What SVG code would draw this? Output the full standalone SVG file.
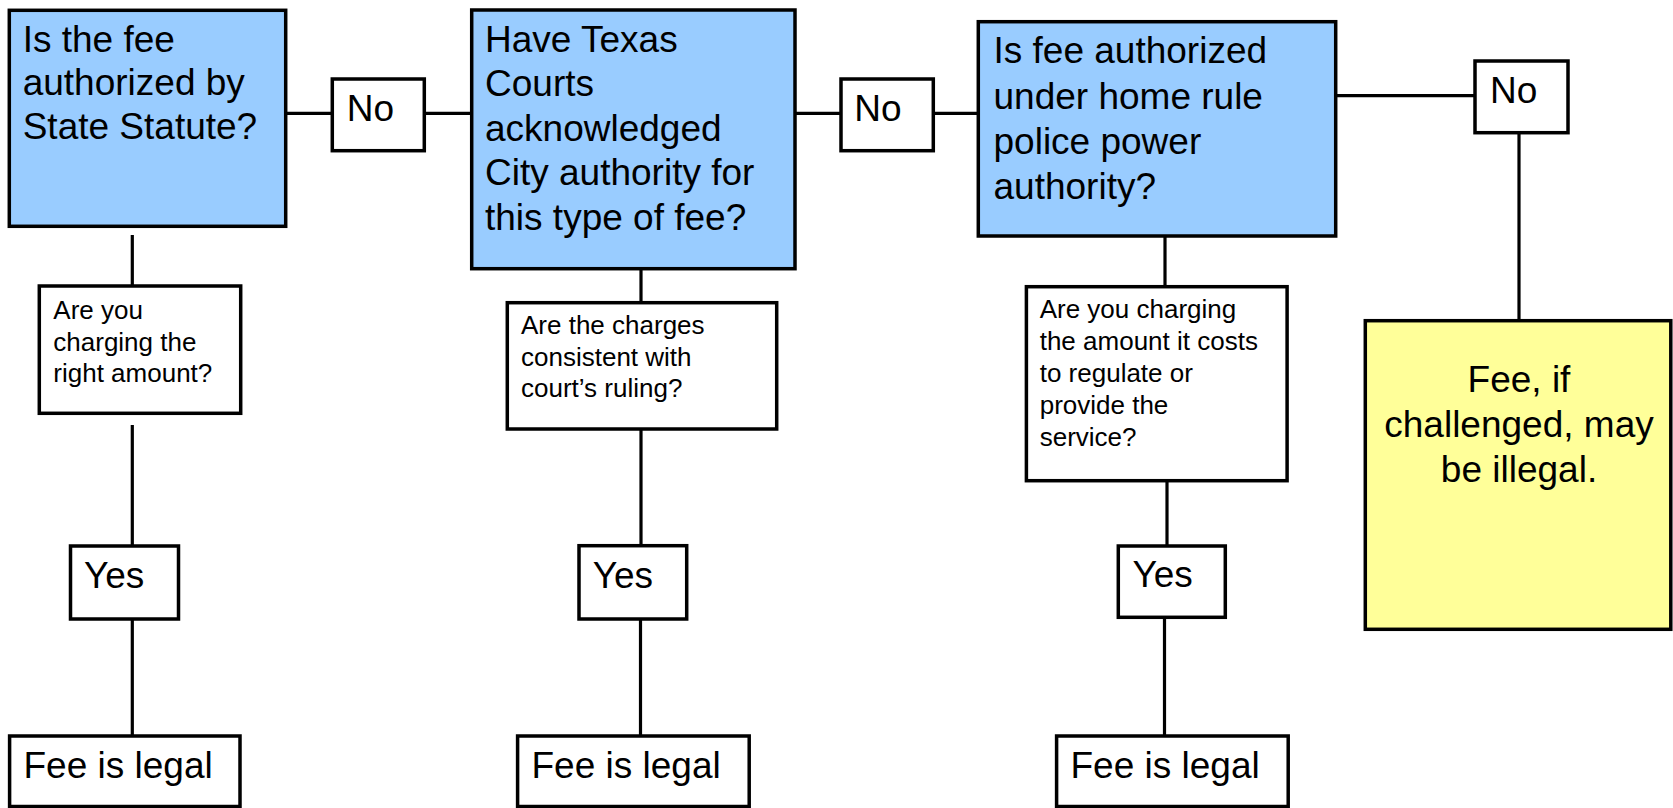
<svg xmlns="http://www.w3.org/2000/svg" width="1673" height="808" viewBox="0 0 1673 808">
<style>
.box{stroke:#000;stroke-width:3.5}
.q{fill:#99CCFF}
.w{fill:#FFFFFF}
.y{fill:#FFFF99}
.t{font-family:"Liberation Sans",Arial,sans-serif;font-size:37px;fill:#000}
.s{font-family:"Liberation Sans",Arial,sans-serif;font-size:26px;fill:#000}
.c line{stroke:#000;stroke-width:3.2}
</style>
<rect width="1673" height="808" fill="#FFFFFF"/>
<g class="c" id="connectors">
<line x1="287" y1="113.3" x2="332" y2="113.3"/>
<line x1="426" y1="113.3" x2="472" y2="113.3"/>
<line x1="795" y1="113.3" x2="841" y2="113.3"/>
<line x1="933" y1="113.3" x2="978" y2="113.3"/>
<line x1="1336" y1="95.7" x2="1475" y2="95.7"/>
<line x1="1519" y1="132" x2="1519" y2="321"/>
<line x1="132.3" y1="235" x2="132.3" y2="286"/>
<line x1="132.3" y1="425" x2="132.3" y2="546"/>
<line x1="132.3" y1="619" x2="132.3" y2="736"/>
<line x1="641" y1="268" x2="641" y2="303"/>
<line x1="641" y1="429" x2="641" y2="546"/>
<line x1="640.5" y1="619" x2="640.5" y2="736"/>
<line x1="1165" y1="235" x2="1165" y2="286"/>
<line x1="1167" y1="481" x2="1167" y2="546"/>
<line x1="1164.5" y1="617" x2="1164.5" y2="736"/>
</g>
<g id="q1">
<rect class="box q" x="9.3" y="10.3" width="276.4" height="216"/>
<text class="t" x="22.7" y="51.7">Is the fee</text>
<text class="t" x="22.7" y="95">authorized by</text>
<text class="t" x="22.7" y="139.3">State Statute?</text>
</g>
<g id="no1">
<rect class="box w" x="332.3" y="79" width="92" height="71.7"/>
<text class="t" x="346.7" y="120.7">No</text>
</g>
<g id="q2">
<rect class="box q" x="471.7" y="10" width="323.3" height="258.7"/>
<text class="t" x="485" y="51.7">Have Texas</text>
<text class="t" x="485" y="96.3">Courts</text>
<text class="t" x="485" y="140.6">acknowledged</text>
<text class="t" x="485" y="185.3">City authority for</text>
<text class="t" x="485" y="230">this type of fee?</text>
</g>
<g id="no2">
<rect class="box w" x="841" y="79" width="92.3" height="71.7"/>
<text class="t" x="854.3" y="120.7">No</text>
</g>
<g id="q3">
<rect class="box q" x="978.3" y="21.7" width="357.4" height="214.3"/>
<text class="t" x="993.5" y="63.3">Is fee authorized</text>
<text class="t" x="993.5" y="109">under home rule</text>
<text class="t" x="993.5" y="154">police power</text>
<text class="t" x="993.5" y="198.5">authority?</text>
</g>
<g id="no3">
<rect class="box w" x="1475" y="61" width="93" height="71.7"/>
<text class="t" x="1490" y="103.3">No</text>
</g>
<g id="s1">
<rect class="box w" x="39.3" y="286" width="201.4" height="127.3"/>
<text class="s" x="53.3" y="319">Are you</text>
<text class="s" x="53.3" y="350.5">charging the</text>
<text class="s" x="53.3" y="382.3">right amount?</text>
</g>
<g id="s2">
<rect class="box w" x="507.3" y="302.7" width="269.4" height="126.3"/>
<text class="s" x="521" y="334">Are the charges</text>
<text class="s" x="521" y="366">consistent with</text>
<text class="s" x="521" y="397.3">court’s ruling?</text>
</g>
<g id="s3">
<rect class="box w" x="1026.4" y="286.7" width="260.7" height="194"/>
<text class="s" x="1039.7" y="318.3">Are you charging</text>
<text class="s" x="1039.7" y="350">the amount it costs</text>
<text class="s" x="1039.7" y="382.3">to regulate or</text>
<text class="s" x="1039.7" y="414">provide the</text>
<text class="s" x="1039.7" y="445.7">service?</text>
</g>
<g id="yes1">
<rect class="box w" x="70.5" y="546" width="108" height="73"/>
<text class="t" x="84" y="588.3">Yes</text>
</g>
<g id="yes2">
<rect class="box w" x="579" y="545.7" width="107.7" height="73.3"/>
<text class="t" x="592.7" y="588.3">Yes</text>
</g>
<g id="yes3">
<rect class="box w" x="1118.3" y="546" width="107" height="71.3"/>
<text class="t" x="1132.5" y="587.3">Yes</text>
</g>
<g id="illegal">
<rect class="box y" x="1365.3" y="320.7" width="305.5" height="308.6"/>
<text class="t" x="1519" y="391.7" text-anchor="middle">Fee, if</text>
<text class="t" x="1519" y="436.7" text-anchor="middle">challenged, may</text>
<text class="t" x="1519" y="481.7" text-anchor="middle">be illegal.</text>
</g>
<g id="legal1">
<rect class="box w" x="9.6" y="736" width="230.4" height="70.5"/>
<text class="t" x="23.5" y="778.3">Fee is legal</text>
</g>
<g id="legal2">
<rect class="box w" x="517.6" y="736" width="231.6" height="70.5"/>
<text class="t" x="531.5" y="778.3">Fee is legal</text>
</g>
<g id="legal3">
<rect class="box w" x="1056.6" y="736" width="231.6" height="70.5"/>
<text class="t" x="1070.5" y="778.3">Fee is legal</text>
</g>
</svg>
